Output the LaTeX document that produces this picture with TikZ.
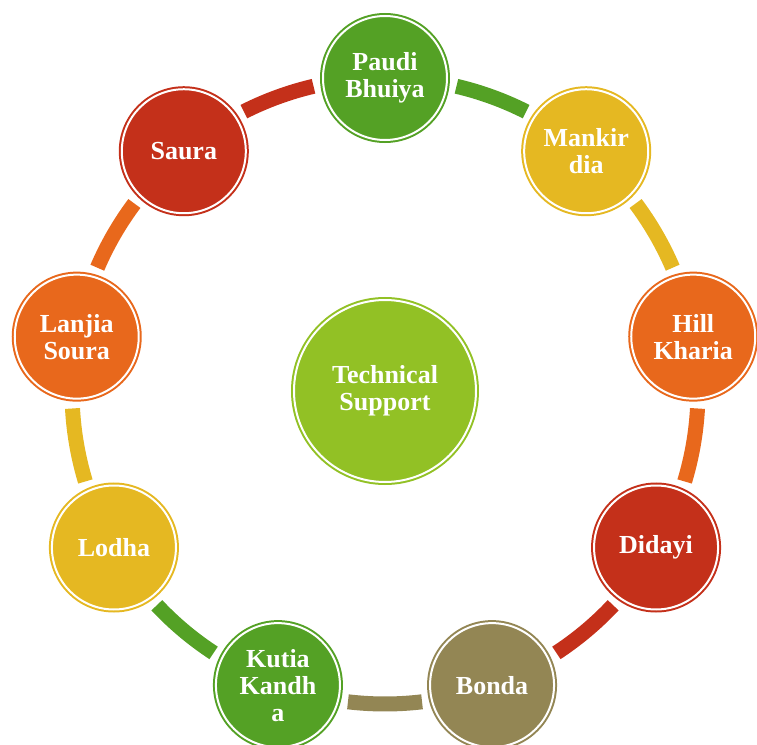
\documentclass[tikz,border=0pt]{standalone}
\usepackage{fontspec}
\setmainfont{Liberation Serif}
\definecolor{tgreen}{RGB}{84,161,37}
\definecolor{tyellow}{RGB}{229,184,34}
\definecolor{torange}{RGB}{232,104,28}
\definecolor{tred}{RGB}{196,48,26}
\definecolor{tolive}{RGB}{147,134,84}
\definecolor{tlime}{RGB}{146,193,37}
\tikzset{
  tribe/.style={circle,fill=#1,draw=#1,double=white,double distance=1pt,
    line width=1pt,minimum size=62pt,inner sep=0pt,align=center,
    text=white,font=\fontsize{13}{13.5}\selectfont\bfseries},
  link/.style={line width=7.5pt,line cap=butt}
}
\begin{document}
\begin{tikzpicture}[x=0.5pt,y=0.5pt]
      \useasboundingbox (-385,-354) rectangle (372,391);
      \def \Nodes{
        paudi/90/tgreen/{Paudi\\Bhuiya},
        mankirdia/50/tyellow/{Mankir\\dia},
        hill/10/torange/{Hill\\Kharia},
        didayi/-30/tred/{Didayi},
        bonda/-70/tolive/{Bonda},
        kutia/-110/tgreen/{Kutia\\Kandh\\a},
        lodha/-150/tyellow/{Lodha},
        lanjia/-190/torange/{Lanjia\\Soura},
        saura/-230/tred/{Saura}}
      \node[tribe=tlime,minimum size=91pt] (hub) at (0,0) {Technical\\Support};
      \foreach \id / \ang / \col / \txt in \Nodes{
        \draw[link,\col] ([shift={({\ang-13.2}:313)}]hub.center)
          arc[start angle=\ang-13.2, end angle=\ang-26.8, radius=313];
      }
      \foreach \id / \ang / \col / \txt in \Nodes{
        \node[tribe=\col] (\id) at (\ang:313) {\txt};
      }
    \end{tikzpicture}
\end{document}
